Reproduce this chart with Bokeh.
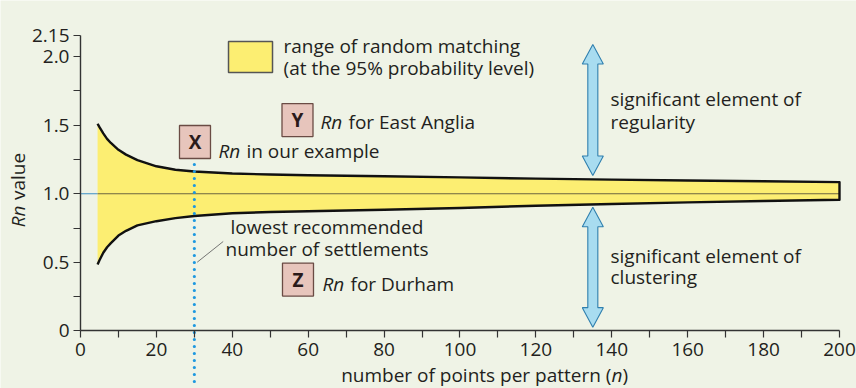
import math
from bokeh.plotting import figure
from bokeh.models import FixedTicker, Label, Range1d
from bokeh.embed import file_html
from bokeh.resources import INLINE
from bokeh.core.properties import value

# ---------------- data ----------------
n_points = [4.5, 5, 6, 7, 8, 10, 12, 15, 20, 25, 30, 40, 50, 60, 80, 100, 120, 140, 160, 180, 200]
upper_rn = [1.51, 1.485, 1.44, 1.40, 1.37, 1.32, 1.285, 1.245, 1.20, 1.175, 1.162, 1.147, 1.140, 1.135, 1.127, 1.119, 1.110, 1.103, 1.097, 1.091, 1.085]
lower_rn = [0.485, 0.515, 0.57, 0.61, 0.64, 0.695, 0.73, 0.77, 0.80, 0.822, 0.838, 0.858, 0.867, 0.873, 0.883, 0.896, 0.913, 0.925, 0.937, 0.947, 0.956]
random_rn = 1.0
min_recommended_n = 30

x_ticks = [0, 20, 40, 60, 80, 100, 120, 140, 160, 180, 200]
x_minor = [10, 30, 50, 70, 90, 110, 130, 150, 170, 190]
y_ticks = [0, 0.5, 1.0, 1.5, 2.0, 2.15]
y_tick_labels = ["0", "0.5", "1.0", "1.5", "2.0", "2.15"]
y_minor = [0.25, 0.75, 1.25, 1.75]

# ---------------- style ----------------
BG = "#eff3e6"
TXT = "#231f20"
YEL = "#fcee72"
FONT = "Open Sans"
FS = "19px"

X_LO, X_HI = -21.08, 204.48
Y_LO, Y_HI = -0.419, 2.408

p = figure(width=856, height=388, output_backend="svg", toolbar_location=None,
           x_range=Range1d(X_LO, X_HI), y_range=Range1d(Y_LO, Y_HI))
p.min_border = 0
p.background_fill_color = BG
p.border_fill_color = BG
p.outline_line_color = None
p.grid.visible = False

for ax in (p.xaxis[0], p.yaxis[0]):
    ax.fixed_location = 0
    ax.axis_line_color = "#333333"
    ax.axis_line_width = 1.4
    ax.major_tick_line_color = "#333333"
    ax.minor_tick_line_color = "#333333"
    ax.major_tick_line_width = 1.2
    ax.minor_tick_line_width = 1.2
    ax.major_tick_in = 0
    ax.minor_tick_in = 0
    ax.major_tick_out = 7
    ax.minor_tick_out = 7
    ax.major_label_text_font = FONT
    ax.major_label_text_font_size = "19px"
    ax.major_label_text_color = TXT

p.xaxis[0].bounds = (x_ticks[0], x_ticks[-1])
p.yaxis[0].bounds = (y_ticks[0], y_ticks[-1])
p.xaxis[0].ticker = FixedTicker(ticks=x_ticks, minor_ticks=x_minor)
p.yaxis[0].ticker = FixedTicker(ticks=y_ticks, minor_ticks=y_minor)
p.yaxis[0].major_label_overrides = {t: s for t, s in zip(y_ticks, y_tick_labels)}
p.xaxis[0].major_label_standoff = 5
p.yaxis[0].major_label_standoff = 4

# ---------------- band ----------------
p.varea(x=n_points, y1=lower_rn, y2=upper_rn, fill_color=YEL)
p.line(x=[0, n_points[0]], y=[random_rn, random_rn], line_color="#3d8fc4", line_width=1.2)
p.line(x=[n_points[0], n_points[-1]], y=[random_rn, random_rn], line_color="#6b6540", line_width=1.2)
outline_x = n_points + n_points[::-1]
outline_y = upper_rn + lower_rn[::-1]
p.line(x=outline_x, y=outline_y, line_color="#111111", line_width=2.4, line_join="round")

# dotted line at lowest recommended n
p.line(x=[min_recommended_n, min_recommended_n], y=[1.264, Y_LO], line_color="#1e98e0",
       line_width=3.2, line_dash="0 7", line_cap="round")

# leader line
p.line(x=[30.75, 37.6], y=[0.501, 0.652], line_color="#666666", line_width=0.9)

# ---------------- double arrows ----------------
def double_arrow(cx, top, bot, sw=1.32, hw=2.77, hl=0.142):
    xs = [cx, cx + hw, cx + sw, cx + sw, cx + hw, cx, cx - hw, cx - sw, cx - sw, cx - hw]
    ys = [top, top - hl, top - hl, bot + hl, bot + hl, bot, bot + hl, bot + hl, top - hl, top - hl]
    p.patch(xs, ys, fill_color="#a8dcf0", line_color="#2f7fae", line_width=1.1)

double_arrow(135.0, 2.087, 1.133)
double_arrow(135.0, 0.902, 0.028)

# ---------------- boxes ----------------
def letter_box(x, y, letter):
    p.rect(x=[x], y=[y], width=31, height=33, width_units="screen", height_units="screen",
           fill_color="#e7c5bc", line_color="#6a4b44", line_width=1.3)
    p.text(x=[x], y=[y], text=[letter], text_align="center", text_baseline="middle",
           text_font=value(FONT), text_font_style="bold", text_font_size="19px", text_color="#2a1a1a")

letter_box(30.17, 1.377, "X")
letter_box(57.18, 1.537, "Y")
letter_box(57.31, 0.375, "Z")

# legend swatch
p.rect(x=[44.8], y=[1.996], width=44, height=31, width_units="screen", height_units="screen",
       fill_color=YEL, line_color="#555555", line_width=1.5)

def txt(x, y, s, italic=False, align="left", x_offset=0, angle=0, baseline="middle"):
    p.add_layout(Label(x=x, y=y, text=s, text_font=FONT, text_font_size=FS, text_color=TXT,
                       text_font_style="italic" if italic else "normal", text_align=align,
                       text_baseline=baseline, x_offset=x_offset, angle=angle))

def rn_text(x, y, rest):
    txt(x, y, "Rn", italic=True)
    txt(x, y, rest, x_offset=28)

txt(53.5, 2.080, "range of random matching")
txt(53.5, 1.913, "(at the 95% probability level)")
rn_text(36.36, 1.315, "in our example")
rn_text(63.24, 1.526, "for East Anglia")
rn_text(63.77, 0.346, "for Durham")
txt(39.53, 0.761, "lowest recommended")
txt(38.21, 0.601, "number of settlements")
txt(139.66, 1.687, "significant element of")
txt(139.66, 1.526, "regularity")
txt(139.66, 0.550, "significant element of")
txt(139.66, 0.390, "clustering")

# axis titles
txt(-16.34, 0.914, "Rn", italic=True, align="right", angle=math.pi / 2)
txt(-16.34, 0.954, "value", align="left", angle=math.pi / 2)
txt(139.9, -0.318, "number of points per pattern (", align="right")
txt(139.9, -0.318, "n", italic=True, align="left")
txt(139.9, -0.318, ")", align="left", x_offset=11)

open("out.html", "w").write(file_html(p, INLINE))
